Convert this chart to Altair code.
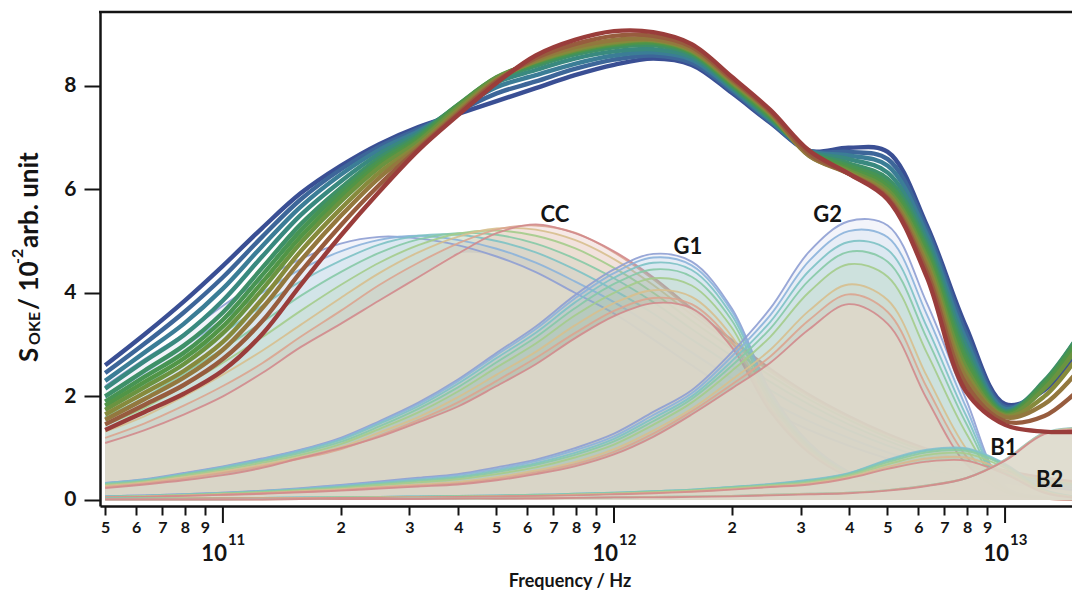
import altair as alt
import pandas as pd

# ---------------- data ----------------
FREQ = [5.0e10, 6.31e10, 7.94e10, 1.0e11, 1.26e11, 1.58e11, 2.0e11, 2.51e11, 3.16e11, 3.98e11,
        5.01e11, 6.31e11, 7.94e11, 1.0e12, 1.26e12, 1.58e12, 2.0e12, 2.51e12, 3.16e12, 3.98e12,
        5.01e12, 6.31e12, 7.94e12, 1.0e13, 1.26e13, 1.58e13]

MAIN = [
    [2.60, 3.20, 3.83, 4.52, 5.25, 5.92, 6.45, 6.87, 7.20, 7.45, 7.70, 7.95, 8.20, 8.40, 8.52, 8.40, 7.86, 7.28, 6.74, 6.80, 6.72, 5.30, 3.35, 1.85, 2.12, 3.00],
    [2.45, 3.02, 3.62, 4.30, 5.08, 5.80, 6.38, 6.82, 7.16, 7.50, 7.85, 8.08, 8.32, 8.50, 8.58, 8.44, 7.90, 7.30, 6.74, 6.72, 6.58, 5.22, 3.22, 1.80, 2.18, 3.10],
    [2.30, 2.85, 3.40, 4.08, 4.90, 5.66, 6.28, 6.76, 7.12, 7.55, 7.97, 8.20, 8.42, 8.58, 8.64, 8.50, 7.94, 7.33, 6.74, 6.65, 6.45, 5.12, 3.10, 1.76, 2.25, 3.20],
    [2.15, 2.68, 3.18, 3.85, 4.70, 5.50, 6.15, 6.68, 7.08, 7.60, 8.06, 8.30, 8.52, 8.66, 8.70, 8.55, 7.97, 7.35, 6.73, 6.58, 6.32, 5.02, 2.98, 1.72, 2.28, 3.30],
    [2.00, 2.50, 2.98, 3.62, 4.48, 5.32, 6.02, 6.60, 7.04, 7.62, 8.12, 8.38, 8.60, 8.74, 8.78, 8.60, 8.00, 7.38, 6.72, 6.50, 6.20, 4.92, 2.86, 1.70, 2.30, 3.30],
    [1.90, 2.38, 2.84, 3.48, 4.34, 5.20, 5.94, 6.54, 7.00, 7.62, 8.15, 8.42, 8.64, 8.78, 8.82, 8.63, 8.02, 7.40, 6.70, 6.45, 6.12, 4.84, 2.76, 1.68, 2.26, 3.25],
    [1.82, 2.28, 2.73, 3.35, 4.20, 5.08, 5.85, 6.48, 6.96, 7.60, 8.16, 8.45, 8.67, 8.80, 8.85, 8.65, 8.04, 7.42, 6.68, 6.40, 6.05, 4.76, 2.66, 1.66, 2.22, 3.20],
    [1.74, 2.18, 2.62, 3.22, 4.06, 4.96, 5.76, 6.42, 6.92, 7.57, 8.15, 8.46, 8.68, 8.82, 8.87, 8.66, 8.06, 7.44, 6.66, 6.36, 5.98, 4.68, 2.56, 1.64, 2.15, 3.10],
    [1.65, 2.07, 2.49, 3.05, 3.88, 4.80, 5.62, 6.32, 6.86, 7.52, 8.12, 8.47, 8.70, 8.84, 8.88, 8.68, 8.08, 7.46, 6.64, 6.32, 5.92, 4.58, 2.46, 1.62, 2.00, 2.90],
    [1.55, 1.95, 2.36, 2.90, 3.70, 4.62, 5.48, 6.22, 6.82, 7.48, 8.10, 8.50, 8.74, 8.88, 8.90, 8.70, 8.10, 7.48, 6.64, 6.30, 5.87, 4.50, 2.36, 1.60, 1.85, 2.60],
    [1.46, 1.84, 2.22, 2.72, 3.45, 4.40, 5.30, 6.08, 6.78, 7.45, 8.08, 8.53, 8.80, 8.96, 8.96, 8.75, 8.13, 7.50, 6.68, 6.30, 5.83, 4.40, 2.24, 1.52, 1.62, 2.20],
    [1.35, 1.70, 2.05, 2.50, 3.20, 4.15, 5.10, 5.95, 6.75, 7.42, 8.05, 8.58, 8.88, 9.05, 9.03, 8.80, 8.17, 7.53, 6.74, 6.30, 5.80, 4.30, 2.10, 1.45, 1.32, 1.32],
]

CC = [
    [2.20, 2.72, 3.20, 3.75, 4.25, 4.65, 4.95, 5.08, 5.05, 4.92, 4.70, 4.40, 4.00, 3.60, 3.10, 2.60, 2.10, 1.70, 1.35, 1.05, 0.80, 0.60, 0.45, 0.34, 0.25, 0.18],
    [1.98, 2.46, 2.96, 3.48, 4.00, 4.45, 4.80, 5.02, 5.10, 5.02, 4.85, 4.58, 4.22, 3.82, 3.35, 2.85, 2.35, 1.90, 1.52, 1.20, 0.92, 0.70, 0.52, 0.40, 0.30, 0.22],
    [1.78, 2.22, 2.72, 3.22, 3.75, 4.22, 4.62, 4.93, 5.10, 5.12, 5.00, 4.78, 4.45, 4.05, 3.60, 3.10, 2.60, 2.12, 1.70, 1.35, 1.05, 0.80, 0.60, 0.46, 0.34, 0.26],
    [1.60, 1.98, 2.44, 2.92, 3.43, 3.94, 4.40, 4.77, 5.03, 5.15, 5.12, 4.95, 4.66, 4.28, 3.82, 3.30, 2.78, 2.28, 1.84, 1.46, 1.14, 0.87, 0.66, 0.50, 0.38, 0.28],
    [1.45, 1.78, 2.20, 2.65, 3.14, 3.65, 4.15, 4.58, 4.92, 5.14, 5.20, 5.10, 4.86, 4.48, 4.00, 3.46, 2.92, 2.40, 1.94, 1.55, 1.21, 0.93, 0.70, 0.53, 0.40, 0.30],
    [1.32, 1.62, 2.00, 2.42, 2.88, 3.38, 3.90, 4.38, 4.78, 5.08, 5.24, 5.22, 5.02, 4.65, 4.15, 3.58, 3.02, 2.48, 2.00, 1.60, 1.25, 0.96, 0.73, 0.55, 0.42, 0.32],
    [1.20, 1.48, 1.82, 2.20, 2.64, 3.15, 3.65, 4.15, 4.58, 4.95, 5.22, 5.30, 5.16, 4.78, 4.26, 3.66, 3.08, 2.52, 2.03, 1.62, 1.27, 0.98, 0.74, 0.56, 0.43, 0.33],
    [1.10, 1.35, 1.65, 2.00, 2.45, 2.95, 3.40, 3.85, 4.30, 4.75, 5.15, 5.32, 5.15, 4.80, 4.30, 3.70, 3.10, 2.54, 2.04, 1.63, 1.28, 0.99, 0.75, 0.57, 0.44, 0.34],
]

G1 = [
    [0.33, 0.40, 0.52, 0.65, 0.80, 0.97, 1.20, 1.52, 1.88, 2.32, 2.84, 3.35, 3.95, 4.45, 4.75, 4.60, 3.70, 2.10, 1.10, 0.55, 0.30, 0.18, 0.11, 0.07, 0.04, 0.03],
    [0.33, 0.39, 0.51, 0.64, 0.79, 0.96, 1.18, 1.50, 1.85, 2.29, 2.80, 3.30, 3.89, 4.38, 4.68, 4.53, 3.65, 2.07, 1.08, 0.54, 0.30, 0.18, 0.11, 0.07, 0.04, 0.03],
    [0.32, 0.39, 0.50, 0.63, 0.77, 0.94, 1.16, 1.47, 1.81, 2.24, 2.74, 3.23, 3.81, 4.29, 4.58, 4.44, 3.57, 2.03, 1.06, 0.53, 0.29, 0.17, 0.11, 0.07, 0.04, 0.03],
    [0.31, 0.37, 0.49, 0.61, 0.75, 0.91, 1.12, 1.42, 1.76, 2.17, 2.66, 3.14, 3.70, 4.17, 4.45, 4.31, 3.47, 1.97, 1.03, 0.52, 0.28, 0.17, 0.10, 0.07, 0.04, 0.03],
    [0.29, 0.36, 0.47, 0.58, 0.72, 0.87, 1.08, 1.37, 1.69, 2.09, 2.56, 3.02, 3.56, 4.00, 4.28, 4.14, 3.33, 1.89, 0.99, 0.50, 0.27, 0.16, 0.10, 0.06, 0.04, 0.03],
    [0.27, 0.34, 0.44, 0.55, 0.68, 0.83, 1.02, 1.30, 1.60, 1.98, 2.42, 2.86, 3.37, 3.80, 4.05, 3.92, 3.16, 1.80, 0.94, 0.47, 0.26, 0.15, 0.09, 0.06, 0.03, 0.02],
    [0.25, 0.32, 0.41, 0.52, 0.65, 0.80, 0.98, 1.24, 1.54, 1.88, 2.30, 2.74, 3.22, 3.65, 3.90, 3.78, 3.05, 1.75, 0.92, 0.46, 0.25, 0.15, 0.09, 0.06, 0.03, 0.02],
    [0.23, 0.30, 0.38, 0.48, 0.62, 0.81, 1.00, 1.22, 1.50, 1.80, 2.20, 2.62, 3.12, 3.55, 3.80, 3.70, 2.95, 1.70, 0.90, 0.45, 0.25, 0.15, 0.09, 0.05, 0.03, 0.02],
]

G2 = [
    [0.07, 0.09, 0.11, 0.14, 0.18, 0.23, 0.29, 0.36, 0.43, 0.50, 0.63, 0.78, 1.00, 1.28, 1.70, 2.12, 2.85, 3.70, 4.80, 5.38, 5.30, 3.80, 1.95, 0.25, 0.05, 0.01],
    [0.07, 0.09, 0.11, 0.14, 0.17, 0.22, 0.28, 0.34, 0.41, 0.48, 0.60, 0.75, 0.96, 1.23, 1.64, 2.06, 2.77, 3.57, 4.62, 5.19, 5.07, 3.58, 1.80, 0.24, 0.05, 0.01],
    [0.07, 0.08, 0.10, 0.13, 0.17, 0.21, 0.26, 0.33, 0.39, 0.45, 0.57, 0.71, 0.91, 1.18, 1.58, 2.00, 2.68, 3.44, 4.43, 4.98, 4.83, 3.34, 1.64, 0.23, 0.05, 0.01],
    [0.06, 0.08, 0.10, 0.13, 0.16, 0.20, 0.25, 0.31, 0.37, 0.43, 0.54, 0.68, 0.87, 1.13, 1.52, 1.95, 2.59, 3.31, 4.25, 4.79, 4.60, 3.12, 1.49, 0.21, 0.04, 0.01],
    [0.06, 0.07, 0.09, 0.12, 0.15, 0.19, 0.23, 0.29, 0.34, 0.40, 0.50, 0.63, 0.82, 1.07, 1.45, 1.88, 2.49, 3.15, 4.02, 4.55, 4.31, 2.84, 1.30, 0.20, 0.04, 0.01],
    [0.05, 0.07, 0.09, 0.11, 0.13, 0.17, 0.21, 0.25, 0.30, 0.35, 0.44, 0.57, 0.73, 0.98, 1.34, 1.76, 2.32, 2.90, 3.66, 4.16, 3.86, 2.39, 1.00, 0.17, 0.03, 0.01],
    [0.05, 0.06, 0.08, 0.10, 0.13, 0.16, 0.19, 0.24, 0.28, 0.32, 0.41, 0.53, 0.69, 0.93, 1.28, 1.71, 2.23, 2.77, 3.48, 3.97, 3.63, 2.17, 0.85, 0.16, 0.03, 0.01],
    [0.05, 0.06, 0.08, 0.10, 0.12, 0.15, 0.18, 0.22, 0.26, 0.30, 0.38, 0.50, 0.65, 0.88, 1.22, 1.65, 2.15, 2.65, 3.30, 3.78, 3.40, 1.95, 0.70, 0.15, 0.03, 0.01],
]

B1 = [
    [0.03, 0.03, 0.03, 0.04, 0.04, 0.05, 0.05, 0.06, 0.07, 0.08, 0.09, 0.10, 0.12, 0.14, 0.17, 0.20, 0.25, 0.31, 0.39, 0.52, 0.78, 0.97, 1.00, 0.70, 0.20, 0.05],
    [0.03, 0.03, 0.03, 0.04, 0.04, 0.05, 0.05, 0.06, 0.07, 0.08, 0.09, 0.10, 0.12, 0.14, 0.17, 0.20, 0.25, 0.30, 0.38, 0.51, 0.76, 0.95, 0.98, 0.68, 0.19, 0.05],
    [0.03, 0.03, 0.03, 0.04, 0.04, 0.04, 0.05, 0.05, 0.06, 0.07, 0.08, 0.09, 0.11, 0.13, 0.16, 0.19, 0.24, 0.29, 0.36, 0.49, 0.73, 0.92, 0.95, 0.66, 0.18, 0.05],
    [0.02, 0.03, 0.03, 0.03, 0.04, 0.04, 0.05, 0.05, 0.06, 0.07, 0.08, 0.09, 0.10, 0.12, 0.15, 0.18, 0.23, 0.28, 0.34, 0.47, 0.69, 0.87, 0.90, 0.62, 0.17, 0.04],
    [0.02, 0.02, 0.03, 0.03, 0.03, 0.04, 0.04, 0.05, 0.05, 0.06, 0.07, 0.08, 0.10, 0.12, 0.14, 0.17, 0.21, 0.26, 0.32, 0.44, 0.64, 0.80, 0.82, 0.56, 0.16, 0.04],
    [0.02, 0.02, 0.02, 0.03, 0.03, 0.03, 0.04, 0.04, 0.05, 0.06, 0.07, 0.08, 0.09, 0.11, 0.13, 0.16, 0.20, 0.25, 0.30, 0.42, 0.60, 0.74, 0.76, 0.50, 0.14, 0.03],
]

B2 = [
    [0.01, 0.01, 0.01, 0.01, 0.02, 0.02, 0.02, 0.02, 0.03, 0.03, 0.03, 0.04, 0.04, 0.05, 0.06, 0.07, 0.08, 0.10, 0.12, 0.14, 0.19, 0.28, 0.42, 0.78, 1.30, 1.40],
    [0.01, 0.01, 0.01, 0.01, 0.01, 0.02, 0.02, 0.02, 0.03, 0.03, 0.03, 0.04, 0.04, 0.05, 0.06, 0.07, 0.08, 0.10, 0.12, 0.14, 0.19, 0.28, 0.42, 0.77, 1.29, 1.39],
    [0.01, 0.01, 0.01, 0.01, 0.01, 0.02, 0.02, 0.02, 0.02, 0.03, 0.03, 0.03, 0.04, 0.05, 0.05, 0.06, 0.07, 0.09, 0.11, 0.13, 0.18, 0.27, 0.42, 0.76, 1.27, 1.36],
]

COMP_NAMES = ["CC", "G1", "G2", "B1", "B2"]
COMP_LABEL_F = [7.06e11, 1.545e12, 3.52e12, 9.93e12, 1.30e13]
COMP_LABEL_V = [5.50, 4.88, 5.50, 1.00, 0.39]

DECADES = [1e11, 1e12, 1e13]
DECADE_EXP = ["11", "12", "13"]
Y_TICKS = [0, 2, 4, 6, 8]

# ---------------- styles ----------------
MAIN_COLORS = ["#3a4f94", "#3d6699", "#3b7d96", "#39897f", "#3e9068", "#479453",
               "#519546", "#6a9340", "#868a3c", "#93783e", "#975c3e", "#9a3d3b"]
COMP_COLORS = ["#8e9ed3", "#8bb3da", "#7dc2c4", "#86c9a6", "#a4cc8b", "#d7bf8e", "#dca48f", "#d28a8c"]
B1_COLORS = ["#86bfd0", "#7dc4c0", "#8ccaa0", "#a8cc8c", "#d8b890", "#d48c8c"]
B2_COLORS = ["#8cc6c8", "#c9bf98", "#d28a8c"]
BEIGE = "#dedacc"
INK = "#141414"
FONT = "Lato"
CURVE = "catmull-rom"

W, H = 972, 494
minor_ticks = [float(d * 10 ** e) for e in (10, 11, 12) for d in range(2, 10)
               if 4.9e10 < d * 10 ** e < 1.45e13]


def long_df(rows, fam, colors):
    recs = []
    for i, row in enumerate(rows):
        for f, v in zip(FREQ, row):
            recs.append({"f": f, "v": v, "k": f"{fam}{i}", "c": colors[i]})
    return pd.DataFrame(recs)


xs = alt.Scale(type="log", domain=[4.85e10, 1.483e13], nice=False)
ys = alt.Scale(domain=[-0.116, 9.42], nice=False, zero=False)

x_axis = alt.Axis(values=minor_ticks, tickSize=9, tickWidth=2, tickColor=INK,
                  domainColor=INK, domainWidth=2.5, grid=False, title=None,
                  labelExpr="format(datum.value / pow(10, floor(log(datum.value) / LN10 + 0.000001)), '.0f')",
                  labelFont=FONT, labelFontWeight="bold", labelFontSize=16, labelColor=INK,
                  labelPadding=4, labelOverlap=False, labelFlush=False)
y_axis = alt.Axis(values=Y_TICKS, tickSize=16, tickWidth=2, tickColor=INK,
                  domainColor=INK, domainWidth=2.5, grid=False, title=None,
                  labelFont=FONT, labelFontWeight="bold", labelFontSize=21, labelColor=INK,
                  labelPadding=8)

# identical axis definitions in every layer so that nothing disables them when merged
X = alt.X("f:Q", scale=xs, axis=x_axis)
Y = alt.Y("v:Q", scale=ys, axis=y_axis, stack=None)

main_df = long_df(MAIN, "M", MAIN_COLORS)


def family_layers(df):
    b = alt.Chart(df)
    tint = b.mark_area(interpolate=CURVE, fillOpacity=0.11, clip=True).encode(
        x=X, y=Y, y2=alt.datum(0), color=alt.Color("c:N", scale=None), detail="k:N")
    floor = b.transform_aggregate(v="min(v)", groupby=["f"]).mark_area(
        interpolate=CURVE, color=BEIGE, fillOpacity=0.82, clip=True).encode(
        x=X, y=Y, y2=alt.datum(0))
    lines = b.mark_line(interpolate=CURVE, strokeWidth=1.9, strokeOpacity=0.9, clip=True).encode(
        x=X, y=Y, color=alt.Color("c:N", scale=None), detail="k:N")
    return [tint, floor, lines]


layers = []
layers += family_layers(long_df(CC, "CC", COMP_COLORS))
layers += family_layers(long_df(G1, "G1", COMP_COLORS))
layers += family_layers(long_df(G2, "G2", COMP_COLORS))
layers += family_layers(long_df(B1, "B1", B1_COLORS))
layers += family_layers(long_df(B2, "B2", B2_COLORS))

main = alt.Chart(main_df).mark_line(interpolate=CURVE, strokeWidth=4.4, clip=True).encode(
    x=X, y=Y, color=alt.Color("c:N", scale=None), detail="k:N")
layers.append(main)

lab_df = pd.DataFrame({"f": COMP_LABEL_F, "v": COMP_LABEL_V, "t": COMP_NAMES})
labels = alt.Chart(lab_df).mark_text(font=FONT, fontWeight="bold", fontSize=22, color=INK,
                                     align="center", baseline="middle").encode(
    x=X, y=Y, text="t:N")
layers.append(labels)

one = pd.DataFrame({"a": [0]})
top_rule = alt.Chart(one).mark_rule(color=INK, strokeWidth=2.5).encode(
    x=alt.value(-1), x2=alt.value(W), y=alt.value(0))
layers.append(top_rule)

dec_df = pd.DataFrame({"f": DECADES, "e": DECADE_EXP})
dec_ticks = alt.Chart(dec_df).mark_rule(color=INK, strokeWidth=2).encode(
    x=X, y=alt.value(H), y2=alt.value(H + 17))
dec_ten = alt.Chart(dec_df).mark_text(font=FONT, fontWeight="bold", fontSize=22, color=INK,
                                      align="right", baseline="alphabetic", dx=4).encode(
    x=X, y=alt.value(549), text=alt.value("10"))
dec_exp = alt.Chart(dec_df).mark_text(font=FONT, fontWeight="bold", fontSize=15, color=INK,
                                      align="left", baseline="alphabetic", dx=5).encode(
    x=X, y=alt.value(533), text="e:N")
layers += [dec_ticks, dec_ten, dec_exp]

x_title = alt.Chart(one).mark_text(font=FONT, fontWeight="bold", fontSize=18, color=INK,
                                   align="center", baseline="alphabetic").encode(
    x=alt.value(470), y=alt.value(575), text=alt.value("Frequency / Hz"))
layers.append(x_title)


def ytxt(t, x, y, size):
    return alt.Chart(one).mark_text(font=FONT, fontWeight="bold", fontSize=size, color=INK,
                                    align="left", baseline="alphabetic", angle=270).encode(
        x=alt.value(x), y=alt.value(y), text=alt.value(t))


layers += [
    ytxt("S", -62, 350, 26),
    ytxt("OKE", -60, 333, 16),
    ytxt("/ 10", -62, 298, 26),
    ytxt("-2", -77, 252, 16),
    ytxt("arb. unit", -62, 236, 26),
]

chart = alt.layer(*layers).properties(
    width=W, height=H,
    padding={"left": 100, "top": 12, "right": 0, "bottom": 86},
    autosize=alt.AutoSizeParams(type="none"),
).configure_view(stroke=None)

chart.save("out.html", embed_options={"renderer": "svg", "actions": False})
